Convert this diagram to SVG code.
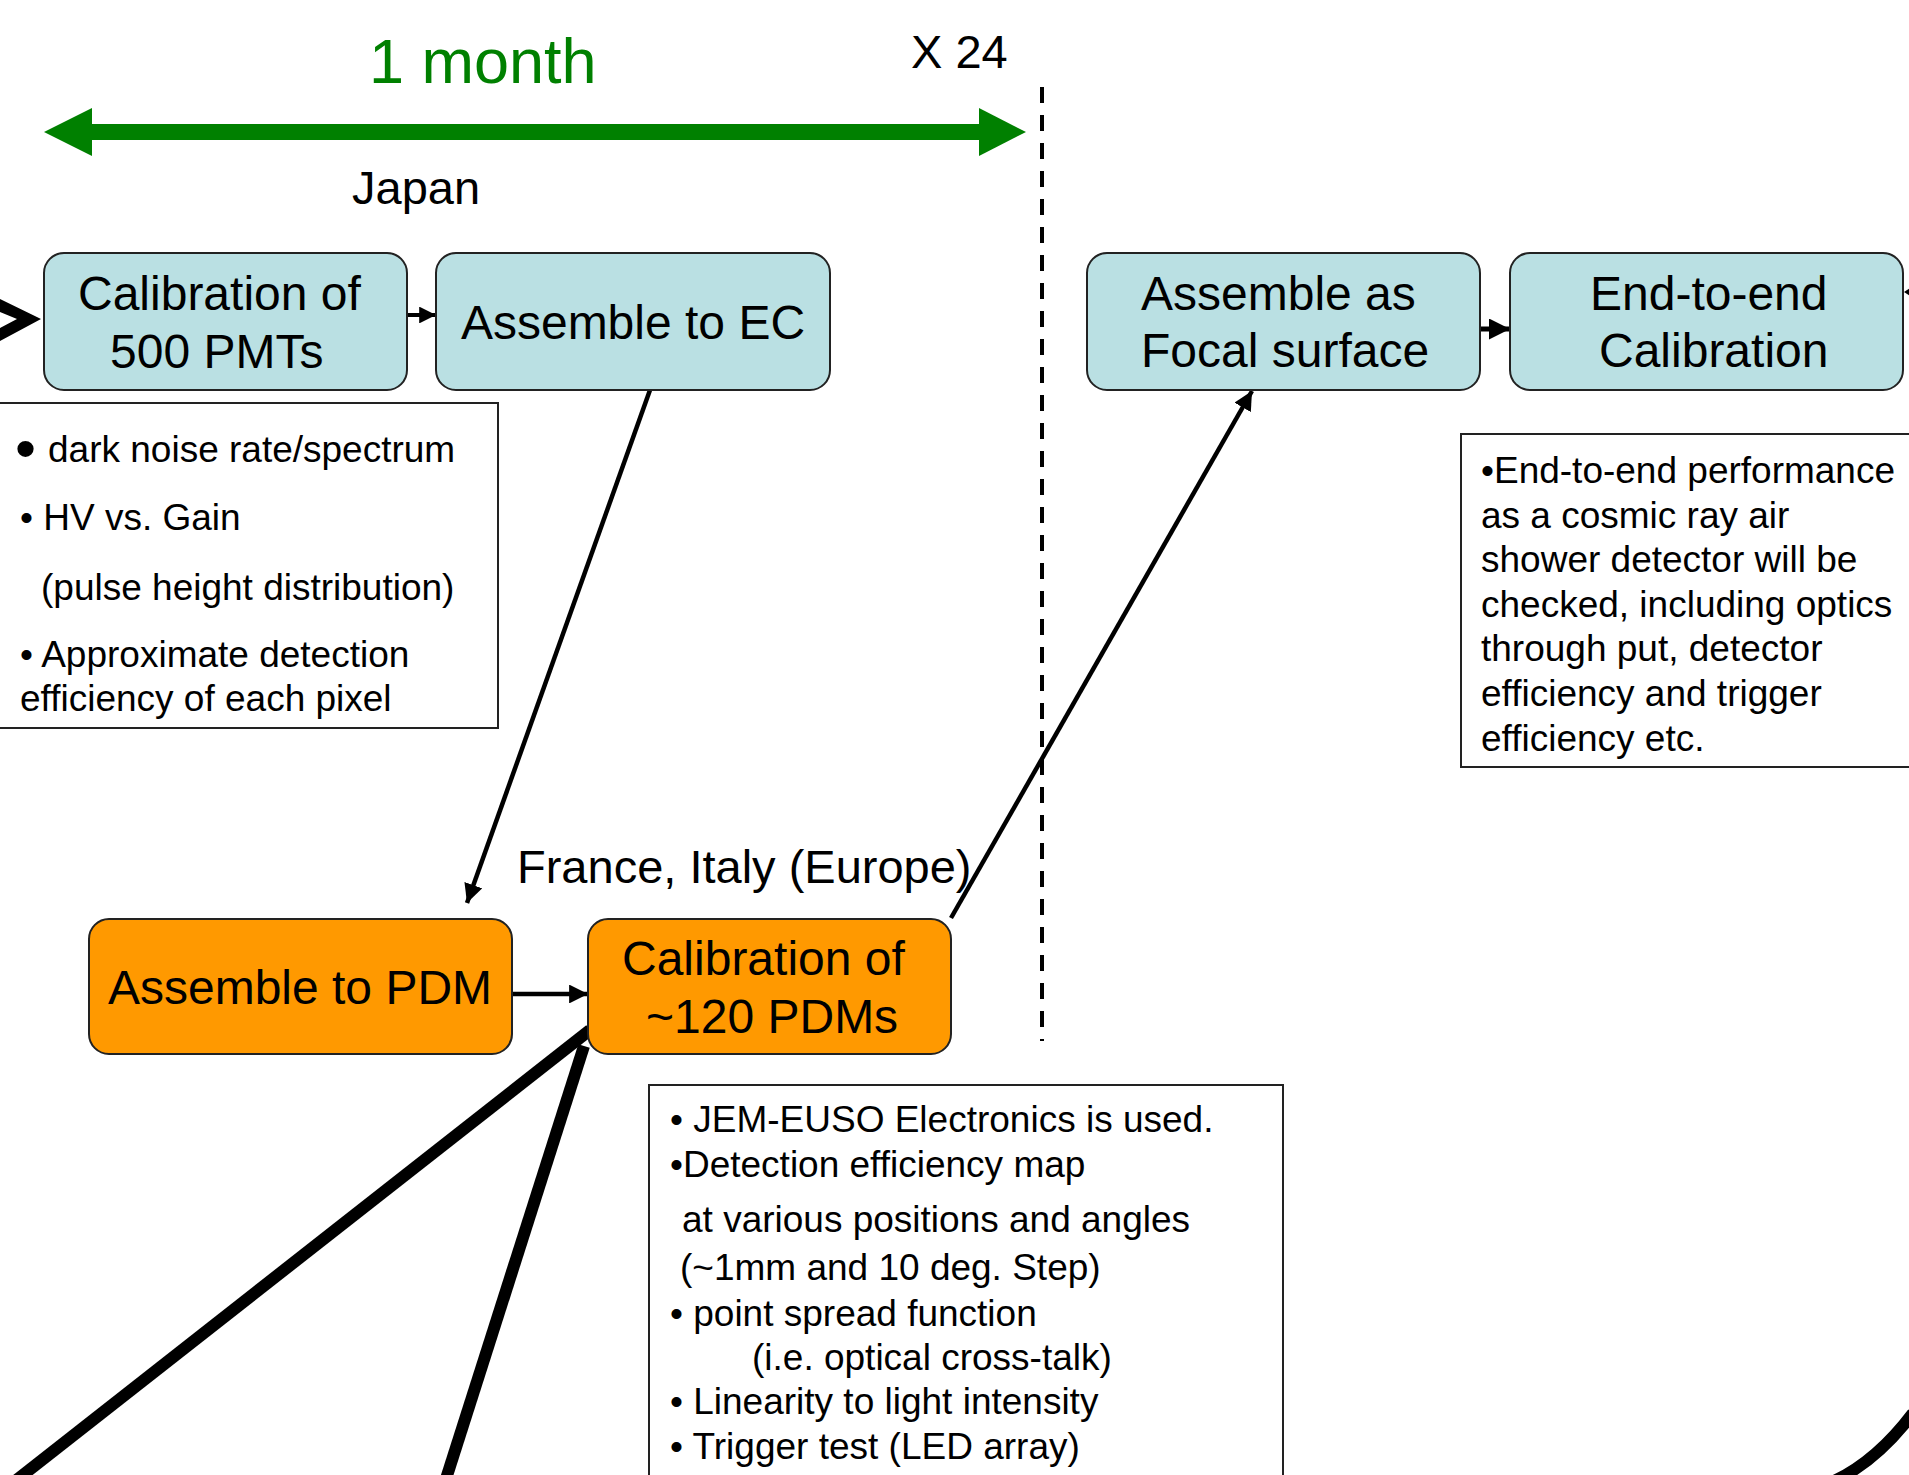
<svg xmlns="http://www.w3.org/2000/svg" width="1909" height="1475" viewBox="0 0 1909 1475">
<style>
text{font-family:"Liberation Sans",Arial,sans-serif;fill:#000}
.bt{font-size:48px}
.nt{font-size:37px}
.teal{fill:#BAE0E3;stroke:#222;stroke-width:2}
.orange{fill:#FF9900;stroke:#222;stroke-width:2}
.note{fill:#fff;stroke:#222;stroke-width:2}
.conn{stroke:#000;fill:none}
</style>
<defs>
<marker id="ah" viewBox="0 0 10 10" refX="10" refY="5" markerWidth="4.2" markerHeight="4.2" markerUnits="strokeWidth" orient="auto">
<path d="M0,0 L10,5 L0,10 z" fill="#000"/>
</marker>
</defs>
<rect width="1909" height="1475" fill="#fff"/>

<g id="timeline">
<text x="369" y="83" style="font-size:63px;fill:#008000">1 month</text>
<text x="911" y="68" style="font-size:47px">X 24</text>
<rect x="88" y="124" width="894" height="16" fill="#008000"/>
<polygon points="44,132 92,108 92,156" fill="#008000"/>
<polygon points="1026,132 979,108 979,156" fill="#008000"/>
<text x="352" y="204" style="font-size:47px">Japan</text>
<line x1="1042" y1="87" x2="1042" y2="1041" stroke="#000" stroke-width="4" stroke-dasharray="16 12"/>
<text x="517" y="883" style="font-size:47px">France, Italy (Europe)</text>
</g>

<g id="connectors">
<polygon points="0,299 41,319 0,341 0,328 17,319 0,312" fill="#000"/>
<line class="conn" x1="407" y1="315" x2="436" y2="315" stroke-width="4" marker-end="url(#ah)"/>
<line class="conn" x1="650" y1="390" x2="467" y2="903" stroke-width="4.5" marker-end="url(#ah)"/>
<line class="conn" x1="512" y1="994" x2="588" y2="994" stroke-width="4.5" marker-end="url(#ah)"/>
<line class="conn" x1="951" y1="918" x2="1252" y2="391" stroke-width="4.5" marker-end="url(#ah)"/>
<line class="conn" x1="1480" y1="329" x2="1510" y2="329" stroke-width="5" marker-end="url(#ah)"/>
<polygon points="1904,292 1910,288 1910,296" fill="#000"/>
<line class="conn" x1="590" y1="1030" x2="14" y2="1482" stroke-width="12"/>
<line class="conn" x1="584" y1="1046" x2="445" y2="1482" stroke-width="12"/>
<path class="conn" d="M1832,1482 Q1876,1462 1913,1413" stroke-width="12"/>
</g>

<g id="node-cal-pmt">
<rect class="teal" x="44" y="253" width="363" height="137" rx="20"/>
<text class="bt" x="78" y="310">Calibration of</text>
<text class="bt" x="110" y="368">500 PMTs</text>
</g>

<g id="node-assemble-ec">
<rect class="teal" x="436" y="253" width="394" height="137" rx="20"/>
<text class="bt" x="633" y="339" text-anchor="middle">Assemble to EC</text>
</g>

<g id="node-focal">
<rect class="teal" x="1087" y="253" width="393" height="137" rx="20"/>
<text class="bt" x="1141" y="310">Assemble as</text>
<text class="bt" x="1141" y="367">Focal surface</text>
</g>

<g id="node-e2e">
<rect class="teal" x="1510" y="253" width="393" height="137" rx="20"/>
<text class="bt" x="1590" y="310">End-to-end</text>
<text class="bt" x="1599" y="367">Calibration</text>
</g>

<g id="node-pdm">
<rect class="orange" x="89" y="919" width="423" height="135" rx="20"/>
<text class="bt" x="300" y="1004" text-anchor="middle">Assemble to PDM</text>
</g>

<g id="node-cal-pdm">
<rect class="orange" x="588" y="919" width="363" height="135" rx="20"/>
<text class="bt" x="622" y="975">Calibration of</text>
<text class="bt" x="646" y="1033">~120 PDMs</text>
</g>

<g id="note-pmt">
<rect class="note" x="-5" y="403" width="503" height="325"/>
<text x="15" y="469" style="font-size:60px">•</text>
<text class="nt" x="48" y="462">dark noise rate/spectrum</text>
<text class="nt" x="20" y="530">• HV vs. Gain</text>
<text class="nt" x="41" y="600">(pulse height distribution)</text>
<text class="nt" x="20" y="667">• Approximate detection</text>
<text class="nt" x="20" y="711">efficiency of each pixel</text>
</g>

<g id="note-e2e">
<rect class="note" x="1461" y="434" width="460" height="333"/>
<text class="nt" x="1481" y="483">•End-to-end performance</text>
<text class="nt" x="1481" y="528">as a cosmic ray air</text>
<text class="nt" x="1481" y="572">shower detector will be</text>
<text class="nt" x="1481" y="617">checked, including optics</text>
<text class="nt" x="1481" y="661">through put, detector</text>
<text class="nt" x="1481" y="706">efficiency and trigger</text>
<text class="nt" x="1481" y="751">efficiency etc.</text>
</g>

<g id="note-pdm">
<rect class="note" x="649" y="1085" width="634" height="410"/>
<text class="nt" x="670" y="1132">• JEM-EUSO Electronics is used.</text>
<text class="nt" x="670" y="1177">•Detection efficiency map</text>
<text class="nt" x="682" y="1232">at various positions and angles</text>
<text class="nt" x="680" y="1280">(~1mm and 10 deg. Step)</text>
<text class="nt" x="670" y="1326">• point spread function</text>
<text class="nt" x="752" y="1370">(i.e. optical cross-talk)</text>
<text class="nt" x="670" y="1414">• Linearity to light intensity</text>
<text class="nt" x="670" y="1459">• Trigger test (LED array)</text>
</g>
</svg>
